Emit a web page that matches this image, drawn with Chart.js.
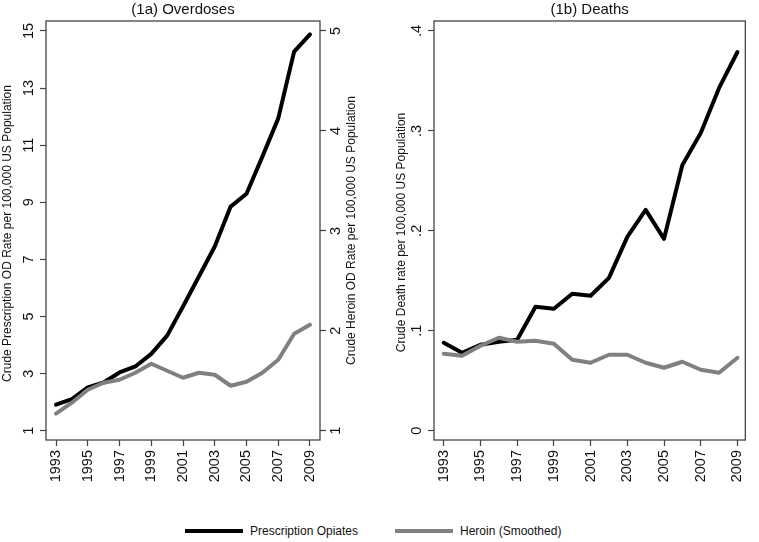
<!DOCTYPE html>
<html>
<head>
<meta charset="utf-8">
<script src="https://cdn.jsdelivr.net/npm/chart.js@4/dist/chart.umd.min.js"></script>
<style>
  html, body { margin: 0; padding: 0; background: #fff; }
  #wrap { position: relative; width: 759px; height: 542px; overflow: hidden;
          font-family: "Liberation Sans", Arial, sans-serif; }
  canvas { position: absolute; top: 0; }
  #k1 { left: 0; }
  #k2 { left: 380px; }
  .sw { position: absolute; height: 4px; top: 529px; width: 58px; }
  .lt { position: absolute; top: 523px; font-size: 12px; line-height: 16px; color: #111; white-space: nowrap; }
</style>
</head>
<body>
<div id="wrap">
  <canvas id="k1" width="380" height="490"></canvas>
  <canvas id="k2" width="379" height="490"></canvas>
  <div class="sw" style="left:185px;background:#000;"></div>
  <div class="lt" style="left:250px;">Prescription Opiates</div>
  <div class="sw" style="left:395px;background:#808080;"></div>
  <div class="lt" style="left:460px;">Heroin (Smoothed)</div>
</div>
<script>
// ---------------- data ----------------
const years = [1993,1994,1995,1996,1997,1998,1999,2000,2001,2002,2003,2004,2005,2006,2007,2008,2009];
const rxOverdoseRate     = [1.91,2.11,2.52,2.69,3.04,3.25,3.69,4.33,5.35,6.40,7.45,8.85,9.30,10.60,11.94,14.28,14.88];
const heroinOverdoseRate = [1.17,1.28,1.41,1.48,1.51,1.58,1.67,1.60,1.53,1.58,1.56,1.45,1.49,1.58,1.71,1.97,2.06];
const rxDeathRate        = [0.088,0.078,0.086,0.089,0.091,0.124,0.122,0.137,0.135,0.153,0.194,0.221,0.192,0.266,0.298,0.343,0.379];
const heroinDeathRate    = [0.077,0.075,0.085,0.093,0.089,0.090,0.087,0.071,0.068,0.076,0.076,0.068,0.063,0.069,0.061,0.058,0.073];

const xTickYears   = [1993,1995,1997,1999,2001,2003,2005,2007,2009];
const rxTicks      = [1,3,5,7,9,11,13,15];
const heroinTicks  = [1,2,3,4,5];
const deathTicks   = [0,0.1,0.2,0.3,0.4];
const deathTickLabels = ["0",".1",".2",".3",".4"];

// ---------------- setup ----------------
const FONT = '"Liberation Sans", Arial, sans-serif';
Chart.defaults.font.family = FONT;
Chart.defaults.color = '#111';

const pts = vals => years.map((y, i) => ({x: y, y: vals[i]}));

const decor = {
  id: 'decor',
  beforeDatasetsDraw(chart, args, opts) {
    const {ctx, chartArea: a} = chart;
    ctx.save();
    ctx.strokeStyle = '#444';
    ctx.lineWidth = 1.3;
    ctx.strokeRect(a.left, a.top, a.right - a.left, a.bottom - a.top);
    ctx.restore();
  },
  afterDraw(chart, args, opts) {
    const {ctx, chartArea: a} = chart;
    ctx.save();
    ctx.fillStyle = '#111';
    ctx.textAlign = 'center';
    ctx.textBaseline = 'middle';
    ctx.font = '15px ' + FONT;
    ctx.fillText(opts.title, (a.left + a.right) / 2, opts.titleY);
    ctx.font = '12px ' + FONT;
    for (const t of opts.axisTitles) {
      ctx.save();
      ctx.translate(t.x, (a.top + a.bottom) / 2 + (t.dy || 0));
      ctx.rotate(-Math.PI / 2);
      ctx.fillText(t.text, 0, 0);
      ctx.restore();
    }
    ctx.restore();
  }
};

const tickFont = {size: 14.5};
const gridTicks = {display: true, drawOnChartArea: false, drawTicks: true, tickLength: 6, tickColor: '#444', tickWidth: 1.2};

function xScale(min, max) {
  return {
    type: 'linear', min: min, max: max,
    afterBuildTicks: s => { s.ticks = xTickYears.map(v => ({value: v})); },
    ticks: {autoSkip: false, minRotation: 90, maxRotation: 90, padding: 4, font: tickFont, color: '#111',
            callback: v => String(v)},
    grid: gridTicks,
    border: {display: false},
    afterFit: s => { s.height = 50; }
  };
}

function yScale(pos, min, max, tickVals, labelFn, pad, width) {
  return {
    type: 'linear', position: pos, min: min, max: max,
    afterBuildTicks: s => { s.ticks = tickVals.map(v => ({value: v})); },
    ticks: {autoSkip: false, minRotation: 90, maxRotation: 90, crossAlign: 'center', padding: pad,
            font: tickFont, color: '#111', callback: labelFn},
    grid: gridTicks,
    border: {display: false},
    afterFit: s => { s.width = width; }
  };
}

const lineStyle = (color, order) => ({
  borderColor: color, backgroundColor: color, borderWidth: 4, pointRadius: 0,
  tension: 0, borderJoinStyle: 'round', borderCapStyle: 'round', fill: false, order: order
});

// ---------------- chart 1a ----------------
new Chart(document.getElementById('k1'), {
  type: 'line',
  data: {
    datasets: [
      Object.assign({label: 'Prescription Opiates', data: pts(rxOverdoseRate), yAxisID: 'y'}, lineStyle('#000', 2)),
      Object.assign({label: 'Heroin (Smoothed)', data: pts(heroinOverdoseRate), yAxisID: 'y2'}, lineStyle('#808080', 1))
    ]
  },
  options: {
    responsive: false, animation: false, devicePixelRatio: 1,
    layout: {padding: {top: 21, left: 0, right: 0, bottom: 0}},
    scales: {
      x: xScale(1992.37, 2009.63),
      y: yScale('left', 0.675, 15.35, rxTicks, v => String(v), 2.5, 46),
      y2: yScale('right', 0.907, 5.1, heroinTicks, v => String(v), 6, 60)
    },
    plugins: {
      legend: {display: false}, tooltip: {enabled: false}, title: {display: false},
      decor: {
        title: '(1a) Overdoses', titleY: 10,
        axisTitles: [
          {x: 8, text: 'Crude Prescription OD Rate per 100,000 US Population', dy: 3},
          {x: 352, text: 'Crude Heroin OD Rate per 100,000 US Population'}
        ]
      }
    }
  },
  plugins: [decor]
});

// ---------------- chart 1b ----------------
new Chart(document.getElementById('k2'), {
  type: 'line',
  data: {
    datasets: [
      Object.assign({label: 'Prescription Opiates', data: pts(rxDeathRate), yAxisID: 'y'}, lineStyle('#000', 2)),
      Object.assign({label: 'Heroin (Smoothed)', data: pts(heroinDeathRate), yAxisID: 'y'}, lineStyle('#808080', 1))
    ]
  },
  options: {
    responsive: false, animation: false, devicePixelRatio: 1,
    layout: {padding: {top: 21, left: 0, right: 6, bottom: 0}},
    scales: {
      x: xScale(1992.47, 2009.43),
      y: yScale('left', -0.0093, 0.41, deathTicks, (v, i) => deathTickLabels[i], 4.5, 54)
    },
    plugins: {
      legend: {display: false}, tooltip: {enabled: false}, title: {display: false},
      decor: {
        title: '(1b) Deaths', titleY: 10,
        axisTitles: [
          {x: 22, text: 'Crude Death rate per 100,000 US Population', dy: 2}
        ]
      }
    }
  },
  plugins: [decor]
});
</script>
</body>
</html>
